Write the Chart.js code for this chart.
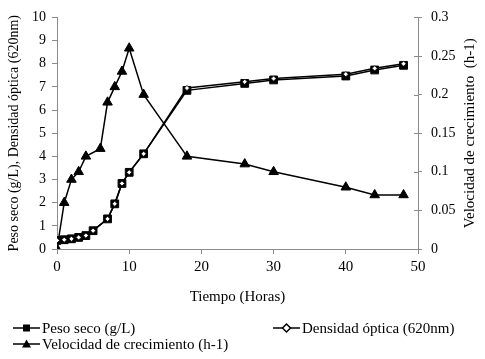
<!DOCTYPE html>
<html>
<head>
<meta charset="utf-8">
<script src="https://cdn.jsdelivr.net/npm/chart.js@4.4.1/dist/chart.umd.min.js"></script>
<style>
  html, body { margin:0; padding:0; background:#fff; }
  #wrap { width:485px; height:359px; position:relative; }
</style>
</head>
<body>
<div id="wrap"><canvas id="grafico"></canvas></div>
<script>
// Tiempo (horas) de cada medida
const tiempoPeso = [0, 1, 2, 3, 4, 5, 7, 8, 9, 10, 12, 18, 26, 30, 40, 44, 48];
const tiempoVel  = [0, 1, 2, 3, 4, 6, 7, 8, 9, 10, 12, 18, 26, 30, 40, 44, 48];

// Series
const pesoSeco  = [0.37, 0.40, 0.44, 0.50, 0.58, 0.79, 1.30, 1.95, 2.83, 3.31, 4.11, 6.85, 7.15, 7.30, 7.47, 7.73, 7.93];
const densidad  = [0.37, 0.40, 0.44, 0.50, 0.58, 0.79, 1.30, 1.95, 2.83, 3.31, 4.11, 6.95, 7.22, 7.36, 7.55, 7.80, 8.00];
const velocidad = [0, 0.06, 0.09, 0.10, 0.12, 0.13, 0.19, 0.21, 0.23, 0.26, 0.20, 0.12, 0.11, 0.10, 0.08, 0.07, 0.07];

const etiquetas = ["Peso seco (g/L)", "Densidad óptica (620nm)", "Velocidad de crecimiento (h-1)"];
const tituloX = "Tiempo (Horas)";
const tituloY = "Peso seco (g/L), Densidad óptica (620nm)";
const tituloY2 = "Velocidad de crecimiento  (h-1)";

const SERIF = '"Liberation Serif", "Times New Roman", serif';
const GRIS = "#8c8c8c";

Chart.defaults.font.family = SERIF;
Chart.defaults.color = "#000";

const pares = (xs, ys) => xs.map((x, i) => ({ x, y: ys[i] }));

// ======= marcadores (para la leyenda) =======
function marca(ctx, tipo, x, y){
  ctx.save();
  ctx.lineWidth = 1.5;
  ctx.strokeStyle = "#000";
  if (tipo === "cuadrado"){
    ctx.fillStyle = "#000";
    ctx.fillRect(x-3.5, y-3.5, 7, 7);
  } else if (tipo === "rombo"){
    ctx.fillStyle = "#fff";
    ctx.beginPath();
    ctx.moveTo(x, y-4); ctx.lineTo(x+4, y); ctx.lineTo(x, y+4); ctx.lineTo(x-4, y); ctx.closePath();
    ctx.fill(); ctx.stroke();
  } else {
    ctx.fillStyle = "#000";
    ctx.beginPath();
    ctx.moveTo(x, y-4.5); ctx.lineTo(x+4.5, y+3.5); ctx.lineTo(x-4.5, y+3.5); ctx.closePath();
    ctx.fill();
  }
  ctx.restore();
}

const extras = {
  id: "extras",
  afterDraw(chart){
    const ctx = chart.ctx;
    const y2 = chart.scales.y1;
    // marcas del eje derecho que cruzan el eje
    ctx.save();
    ctx.strokeStyle = GRIS; ctx.lineWidth = 1;
    y2.ticks.forEach(t => {
      const py = Math.round(y2.getPixelForValue(t.value)) + 0.5;
      ctx.beginPath(); ctx.moveTo(y2.left - 4, py); ctx.lineTo(y2.left, py); ctx.stroke();
    });
    // titulo eje derecho (de abajo hacia arriba)
    ctx.fillStyle = "#000";
    ctx.font = "15px " + SERIF;
    ctx.translate(470, (chart.chartArea.top + chart.chartArea.bottom) / 2);
    ctx.rotate(-Math.PI/2);
    ctx.textAlign = "center"; ctx.textBaseline = "middle";
    ctx.fillText(tituloY2, 0, 0);
    ctx.restore();

    // leyenda
    const filas = [
      { x: 13, y: 328, tipo: "cuadrado", txt: etiquetas[0] },
      { x: 273, y: 328, tipo: "rombo", txt: etiquetas[1] },
      { x: 13, y: 344, tipo: "triangulo", txt: etiquetas[2] },
    ];
    ctx.save();
    ctx.font = "15px " + SERIF;
    ctx.fillStyle = "#000";
    ctx.textBaseline = "middle";
    filas.forEach(f => {
      ctx.strokeStyle = "#000"; ctx.lineWidth = 1.5;
      ctx.beginPath(); ctx.moveTo(f.x, f.y); ctx.lineTo(f.x + 27, f.y); ctx.stroke();
      marca(ctx, f.tipo, f.x + 13.5, f.y);
      ctx.fillText(f.txt, f.x + 29, f.y + 1);
    });
    ctx.restore();
  }
};

new Chart(document.getElementById("grafico").getContext("2d"), {
  type: "line",
  data: {
    datasets: [
      { label: etiquetas[2], data: pares(tiempoVel, velocidad), yAxisID: "y1", order: 2,
        borderColor: "#000", borderWidth: 1.5, pointStyle: "triangle", pointRadius: 5.5,
        pointBackgroundColor: "#000", pointBorderColor: "#000", pointBorderWidth: 1, tension: 0 },
      { label: etiquetas[0], data: pares(tiempoPeso, pesoSeco), yAxisID: "y", order: 1,
        borderColor: "#000", borderWidth: 1.5, pointStyle: "rect", pointRadius: 5.5,
        pointBackgroundColor: "#000", pointBorderColor: "#000", pointBorderWidth: 1, tension: 0 },
      { label: etiquetas[1], data: pares(tiempoPeso, densidad), yAxisID: "y", order: 0,
        borderColor: "#000", borderWidth: 1.5, pointStyle: "rectRot", pointRadius: 2.6,
        pointBackgroundColor: "#fff", pointBorderColor: "#000", pointBorderWidth: 0.8, tension: 0 },
    ]
  },
  options: {
    responsive: true, maintainAspectRatio: false, animation: false,
    layout: { padding: { top: 14, bottom: 0, left: 0, right: 0 } },
    plugins: { legend: { display: false }, tooltip: { enabled: false } },
    scales: {
      x: {
        type: "linear", min: 0, max: 50,
        ticks: { stepSize: 10, padding: 4, font: { size: 15 }, maxRotation: 0 },
        grid: { drawOnChartArea: false, tickLength: 5, color: GRIS },
        border: { color: GRIS },
        title: { display: true, text: tituloX, font: { size: 15 }, padding: { bottom: 53 } },
        afterFit: s => { s.height = 110; }
      },
      y: {
        position: "left", min: 0, max: 10,
        ticks: { stepSize: 1, padding: 6, font: { size: 14 } },
        grid: { drawOnChartArea: false, tickLength: 5, color: GRIS },
        border: { color: GRIS },
        title: { display: true, text: tituloY, font: { size: 14 }, padding: { top: 6, bottom: 0 } },
        afterFit: s => { s.width = 57; }
      },
      y1: {
        position: "right", min: 0, max: 0.3,
        ticks: { stepSize: 0.05, padding: 9, font: { size: 14 },
                 callback: v => String(+v.toFixed(2)) },
        grid: { drawOnChartArea: false, tickLength: 4, color: GRIS },
        border: { color: GRIS },
        afterFit: s => { s.width = 67; }
      }
    }
  },
  plugins: [extras]
});
</script>
</body>
</html>
